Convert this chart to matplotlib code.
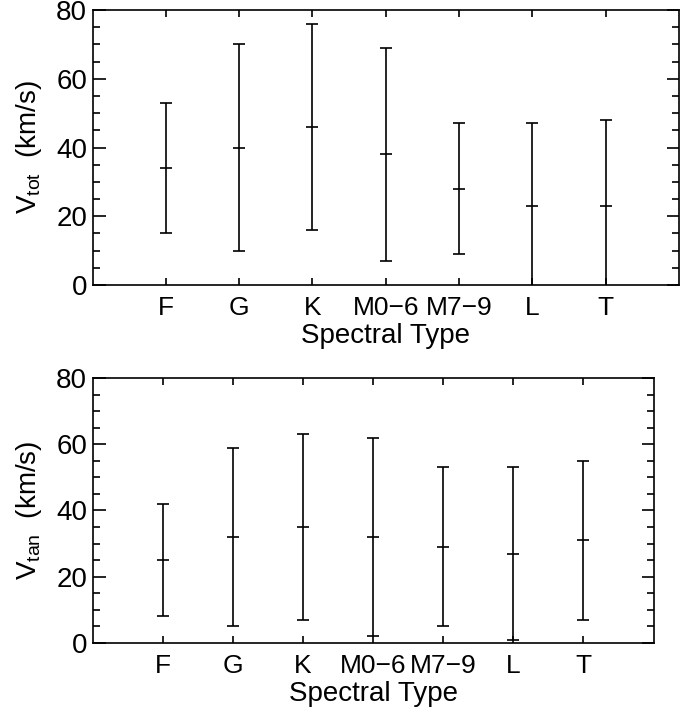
import matplotlib
matplotlib.use("Agg")
import matplotlib.pyplot as plt
from matplotlib.ticker import MultipleLocator

categories = ["F", "G", "K", "M0\u22126", "M7\u22129", "L", "T"]
vtot_mean = [34, 40, 46, 38, 28, 23, 23]
vtot_err = [19, 30, 30, 31, 19, 24, 25]
vtan_mean = [25, 32, 35, 32, 29, 27, 31]
vtan_err = [17, 27, 28, 30, 24, 26, 24]

plt.rcParams['font.family'] = ['Liberation Sans', 'DejaVu Sans']
plt.rcParams['font.size'] = 20

fig = plt.figure(figsize=(6.88, 7.09), dpi=100)
ax1 = fig.add_axes([0.1346, 0.598, 0.8523, 0.3879])
ax2 = fig.add_axes([0.1346, 0.0931, 0.8154, 0.3738])

x = list(range(1, len(categories) + 1))

def setup(ax, means, errs, ylabel):
    ax.errorbar(x, means, yerr=errs, fmt='_', color='black', ecolor='black',
                elinewidth=1.2, capsize=4.0, capthick=1.2, markersize=9,
                markeredgewidth=1.2)
    ax.set_xlim(0, 8)
    ax.set_ylim(0, 80)
    ax.set_xticks(x)
    ax.set_xticklabels(categories, fontsize=19)
    ax.yaxis.set_major_locator(MultipleLocator(20))
    ax.yaxis.set_minor_locator(MultipleLocator(5))
    ax.tick_params(axis='y', which='major', direction='in', length=9, width=1.2,
                   left=True, right=True, pad=4)
    ax.tick_params(axis='y', which='minor', direction='in', length=5, width=1.2,
                   left=True, right=True)
    ax.tick_params(axis='x', which='major', direction='in', length=5, width=1.2,
                   top=True, bottom=True, pad=8)
    ax.tick_params(axis='x', which='minor', bottom=False, top=False)
    for s in ax.spines.values():
        s.set_linewidth(1.2)
    ax.set_xlabel("Spectral Type", labelpad=2)
    ax.set_ylabel(ylabel, labelpad=9, fontsize=20)

setup(ax1, vtot_mean, vtot_err, r"$\mathregular{V_{tot}}$  (km/s)")
setup(ax2, vtan_mean, vtan_err, r"$\mathregular{V_{tan}}$  (km/s)")

fig.savefig("out.png", dpi=100)
